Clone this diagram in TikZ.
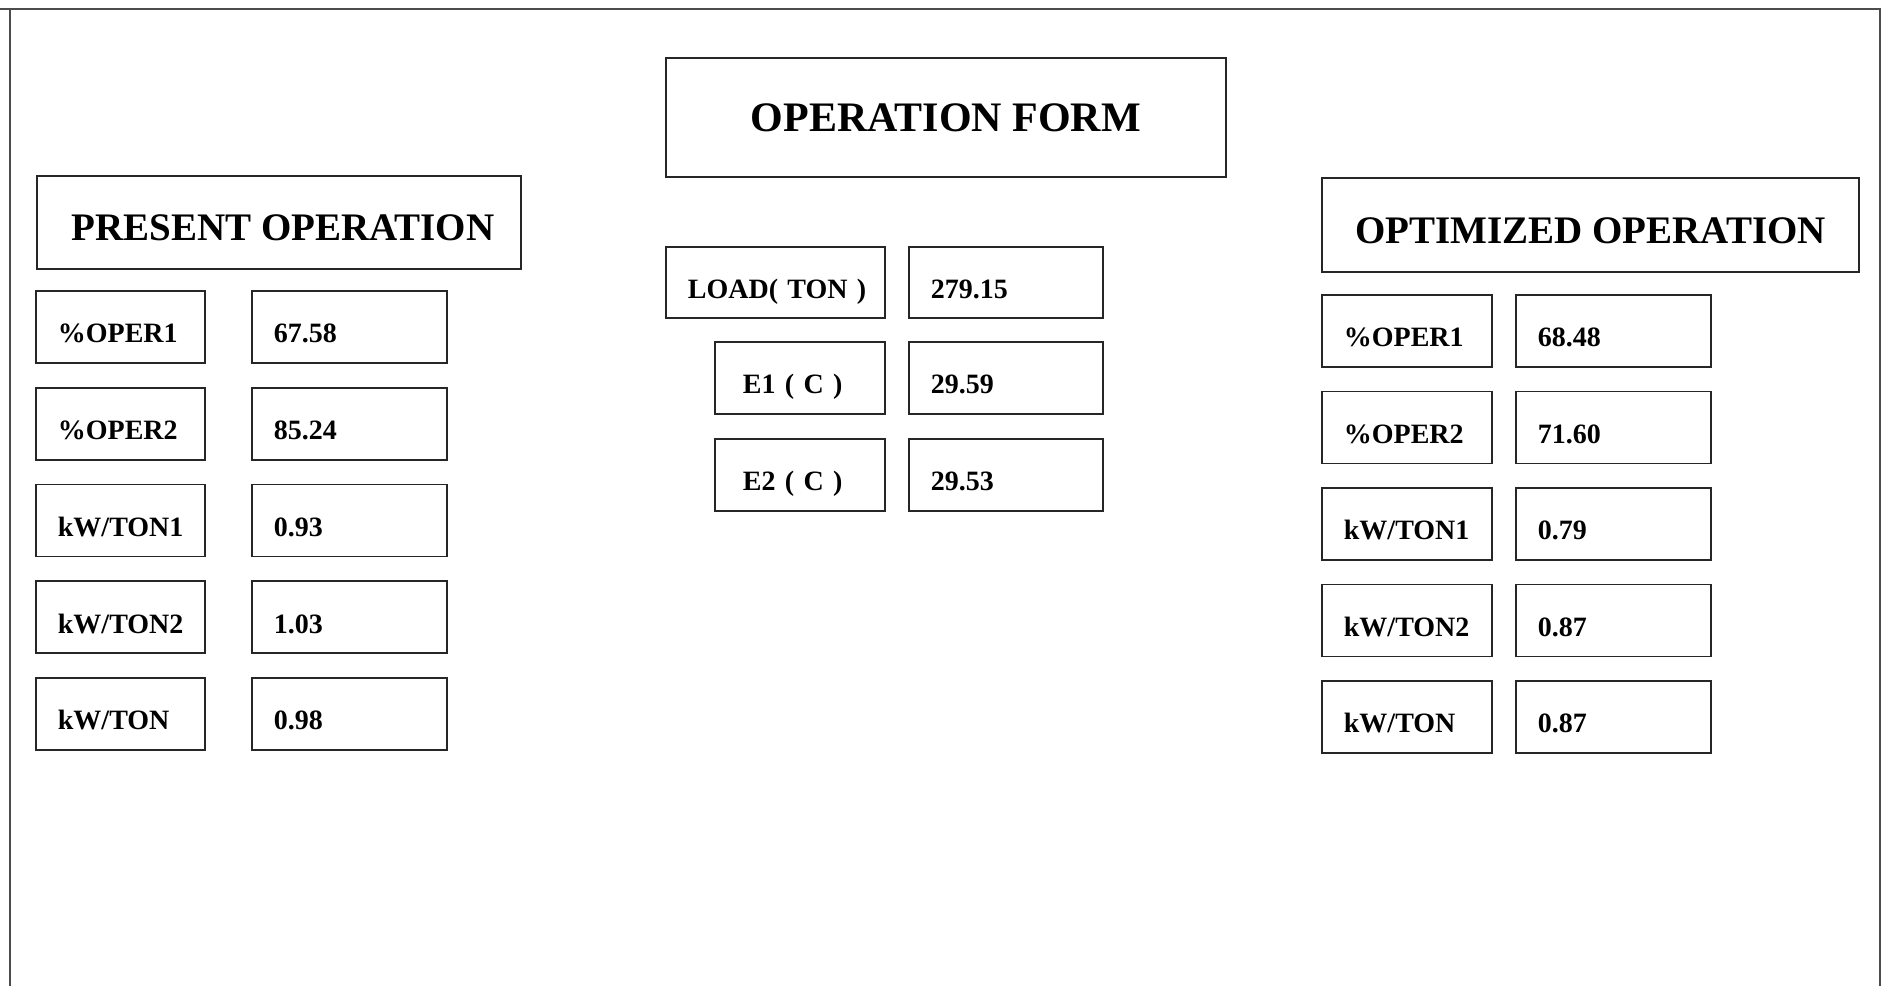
\documentclass[tikz,border=0pt]{standalone}
\usepackage{fontspec}
\setmainfont{Liberation Serif}
\usetikzlibrary{positioning}

\tikzset{
  cell/.style={draw=black!85, line width=0.9pt, minimum height=36pt,
               inner xsep=11pt, inner ysep=0pt, align=left, anchor=north west,
               text height=16pt, text depth=0pt,
               font=\fontsize{14}{16}\selectfont\bfseries},
  headbox/.style={draw=black!85, line width=0.9pt, inner sep=0pt, anchor=north west,
                  text height=18.3pt, text depth=0pt,
                  font=\fontsize{19.5}{22}\selectfont\bfseries}
}

\begin{document}
\begin{tikzpicture}[x=0.5pt, y=-0.5pt]
    \useasboundingbox (0,0) rectangle (1890,986);
    % outer frame
    \draw[black!70, line width=0.8pt] (10,986) -- (10,9) -- (0,9) -- (1880,9) -- (1880,986);

    % titles
    \node[headbox, minimum width=280pt, minimum height=59.5pt, text height=14.3pt,
          font=\fontsize{21}{24}\selectfont\bfseries] (form) at (665,57) {OPERATION FORM};
    \node[headbox, minimum width=242pt, minimum height=46.5pt] (present) at (36,175) {\hspace{4pt}PRESENT OPERATION};
    \node[headbox, minimum width=268.5pt, minimum height=47pt] (optimized) at (1321,177) {OPTIMIZED OPERATION};

    % present operation
    \foreach \lab/\val [count=\i] in {{\%OPER1}/67.58, {\%OPER2}/85.24, {kW/TON1}/0.93, {kW/TON2}/1.03, {kW/TON}/0.98} {
        \node[cell, text width=62.5pt] (pl\i) at (35,{290+96.75*(\i-1)}) {\lab};
        \node[cell, text width=75.5pt] (pv\i) at (251,{290+96.75*(\i-1)}) {\val};
    }

    % operation form
    \node[cell, text width=87.5pt, minimum height=35.5pt] (load) at (665,246) {\mbox{LOAD( TON )}};
    \node[cell, text width=75pt, minimum height=35.5pt] (loadv) at (908,246) {279.15};
    \foreach \lab/\val [count=\i] in {{E1 ( C )}/29.59, {E2 ( C )}/29.53} {
        \node[cell, text width=57pt, inner xsep=14pt] (el\i) at (714,{341+97*(\i-1)}) {\lab};
        \node[cell, text width=75pt] (ev\i) at (908,{341+97*(\i-1)}) {\val};
    }

    % optimized operation
    \foreach \lab/\val [count=\i] in {{\%OPER1}/68.48, {\%OPER2}/71.60, {kW/TON1}/0.79, {kW/TON2}/0.87, {kW/TON}/0.87} {
        \node[cell, text width=63pt] (ol\i) at (1321,{294+96.5*(\i-1)}) {\lab};
        \node[cell, text width=75.5pt] (ov\i) at (1515,{294+96.5*(\i-1)}) {\val};
    }
\end{tikzpicture}
\end{document}
